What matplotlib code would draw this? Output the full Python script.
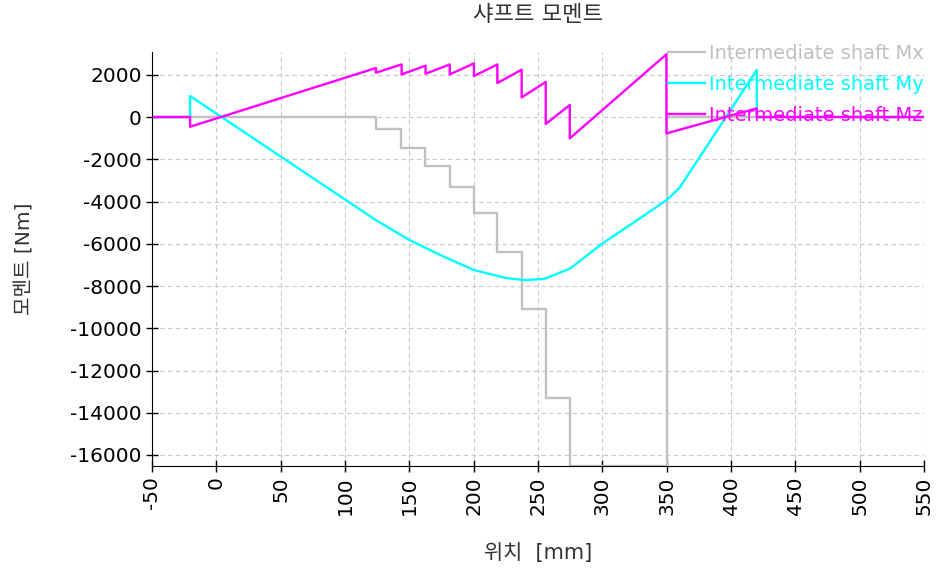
import matplotlib
matplotlib.use('Agg')
import matplotlib.pyplot as plt

plt.rcParams['font.family'] = ['DejaVu Sans', 'Noto Sans CJK KR']
plt.rcParams['axes.unicode_minus'] = False

# Mx: stepped torque along the shaft (value holds until next position)
mx_pos = [-50, 124, 143.5, 162.5, 181.5, 200.2, 218.5, 237.3, 256, 274.6, 350, 550]
mx_val = [0, -560, -1460, -2320, -3300, -4550, -6380, -9100, -13300, -16510, 0, 0]

# My
my_pos = [-50, -20.4, -20.4, 124, 150, 175, 200, 225, 240, 255, 275, 300, 325, 350, 360, 420, 420, 550]
my_val = [0, 0, 995, -4880, -5820, -6560, -7240, -7620, -7720, -7660, -7170, -5990, -4970, -3930, -3350, 2225, 0, 0]

# Mz (sawtooth with jumps at each gear)
mz_pos = [-50, -20.4, -20.4, 124, 124, 144, 144, 162.6, 162.6, 181.4, 181.4, 200.2, 200.2,
          218.4, 218.4, 237.3, 237.3, 256, 256, 274.7, 274.7, 349.8, 349.8, 420, 420, 550]
mz_val = [0, 0, -460, 2320, 2100, 2490, 2020, 2430, 2050, 2490, 2020, 2540, 1940,
          2490, 1610, 2240, 930, 1660, -330, 570, -1010, 2970, -775, 410, 0, 0]

x_ticks = list(range(-50, 551, 50))
y_ticks = list(range(-16000, 2001, 2000))

fig = plt.figure(figsize=(9.4, 5.75), dpi=100)
ax = fig.add_axes([0.1617, 0.1896, 0.8213, 0.72])

ax.plot(mx_pos, mx_val, drawstyle='steps-post', color='#c0c0c0', lw=1.7, label='Intermediate shaft Mx')
ax.plot(my_pos, my_val, color='#00ffff', lw=1.7, label='Intermediate shaft My')
ax.plot(mz_pos, mz_val, color='#ff00ff', lw=1.7, label='Intermediate shaft Mz')

ax.set_xlim(-50, 550)
ax.set_ylim(-16520, 3080)
ax.set_xticks(x_ticks)
ax.set_yticks(y_ticks)
ax.tick_params(axis='x', labelrotation=90)
ax.tick_params(labelsize=14.5, direction='inout', length=8, width=1, colors='black')
ax.grid(True, color='#c8c8c8', linestyle=(0, (4, 3)), linewidth=0.8)
ax.set_axisbelow(True)
for s in ['top', 'right']:
    ax.spines[s].set_visible(False)

ax.set_xlabel('위치  [mm]', fontsize=15, color='#333333', va='center')
ax.xaxis.set_label_coords(0.5, -0.21)
ax.set_ylabel('모멘트 [Nm]', fontsize=14.5, color='#333333', va='center')
ax.yaxis.set_label_coords(-0.164, 0.5)
fig.text(0.5723, 1 - 15 / 575, '샤프트 모멘트', fontsize=16, color='#333333', ha='center', va='center')

leg = ax.legend(loc='upper right', bbox_to_anchor=(1.0, 1.02), frameon=False, fontsize=14,
                borderpad=0, borderaxespad=0, handlelength=1.9, handletextpad=0.2, labelspacing=0.62)
for txt, line in zip(leg.get_texts(), leg.get_lines()):
    txt.set_color(line.get_color())

fig.savefig('out.png', dpi=100)
